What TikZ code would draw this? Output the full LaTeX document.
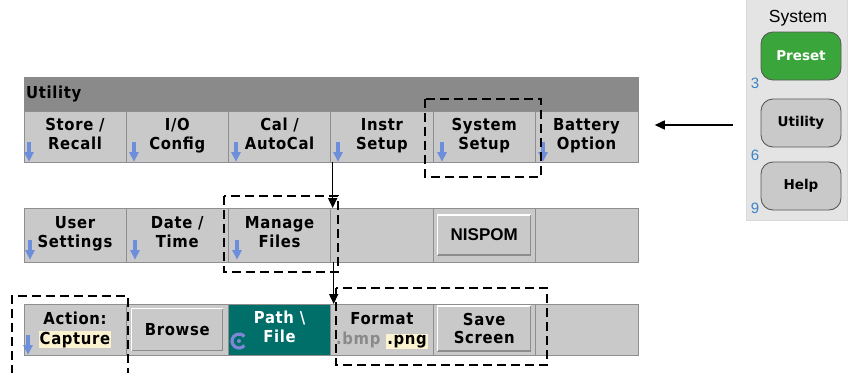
\documentclass[tikz,border=0pt]{standalone}
\usepackage{fontspec}
\setmainfont{Liberation Sans}
\newfontfamily\lcd[FakeStretch=0.9,LetterSpace=4]{DejaVu Sans}
\newfontfamily\keyfont{DejaVu Sans}
\usetikzlibrary{arrows.meta}

\definecolor{barGray}{HTML}{8A8A8A}
\definecolor{cellGray}{HTML}{C9C9C9}
\definecolor{lineGray}{HTML}{8E8E8E}
\definecolor{tealCell}{HTML}{006E69}
\definecolor{hiYellow}{HTML}{FBF3CF}
\definecolor{dimGray}{HTML}{8A8A8A}
\definecolor{softBlue}{HTML}{6D8FDB}
\definecolor{iconBlue}{HTML}{7E86D6}
\definecolor{keyGreen}{HTML}{3AA53A}
\definecolor{numBlue}{HTML}{3C82C4}
\definecolor{panelGray}{HTML}{E4E4E4}

\tikzset{
  cell/.style={draw=lineGray, fill=cellGray, minimum width=102.5pt, inner sep=0pt, outer sep=0pt,
    align=center, text height=25pt, text depth=0pt, font=\lcd\bfseries\fontsize{16.5}{19}\selectfont},
  raised/.style={draw=lineGray!80, line width=1.2pt, fill=cellGray, inner sep=0pt, outer sep=0pt, align=center},
  focus/.style={dash pattern=on 9pt off 5pt, line width=1.2pt},
  key/.style={draw=black!65, line width=0.9pt, rounded corners=12pt, minimum width=80pt, minimum height=48pt,
    fill=cellGray, font=\keyfont\bfseries\fontsize{13.5}{16}\selectfont},
  keynum/.style={text=numBlue, font=\fontsize{15}{17}\selectfont, inner sep=0pt},
  downarrow/.pic={
    \fill[softBlue] (-1.6,0) rectangle (1.6,11);
    \fill[softBlue] (-5,10) -- (5,10) -- (0,19.5) -- cycle;
  },
  >={Triangle[length=10pt,width=9pt]}
}
\newcommand{\hl}[1]{{\setlength\fboxsep{1pt}\colorbox{hiYellow}{#1}}}

\begin{document}
\begin{tikzpicture}[x=1pt,y=-1pt]
	\useasboundingbox (0,0) rectangle (850,372);
	% top menu
	\node[draw=barGray, fill=barGray, minimum width=614pt, minimum height=33pt, inner sep=0pt] (title) at (331,93.5) {};
	\node[anchor=base west, inner sep=0pt, font=\lcd\bfseries\fontsize{16.5}{19}\selectfont] (titletext) at (26,98) {Utility};
	\node[cell, minimum height=51pt] (store) at (75,136.5) {Store /\\Recall};
	\node[cell, minimum height=51pt] (ioconf) at (177.3,136.5) {I/O\\Config};
	\node[cell, minimum height=51pt] (cal) at (279.6,136.5) {Cal /\\AutoCal};
	\node[cell, minimum height=51pt] (instr) at (381.9,136.5) {Instr\\Setup};
	\node[cell, minimum height=51pt] (syssetup) at (484.2,136.5) {System\\Setup};
	\node[cell, minimum height=51pt] (battery) at (586.5,136.5) {Battery\\Option};
	% second menu
	\node[cell, minimum height=54pt] (user) at (75,235) {User\\Settings};
	\node[cell, minimum height=54pt] (datetime) at (177.3,235) {Date /\\Time};
	\node[cell, minimum height=54pt] (manage) at (279.6,235) {Manage\\Files};
	\node[cell, minimum height=54pt] (blanka) at (381.9,235) {};
	\node[cell, minimum height=54pt] (nispomcell) at (484.2,235) {};
	\node[cell, minimum height=54pt] (blankb) at (586.5,235) {};
	\node[raised, minimum width=93pt, minimum height=40pt, font=\bfseries\fontsize{17}{20}\selectfont] (nispom) at (nispomcell) {NISPOM};
	% third menu
	\node[cell, minimum height=51pt, text height=29pt] (action) at (75,329.5) {Action:\\[1pt]\hl{Capture}};
	\node[cell, minimum height=51pt] (browsecell) at (177.3,329.5) {};
	\node[cell, fill=tealCell, minimum height=51pt, text=white] (path) at (279.6,329.5) {Path \textbackslash\\File};
	\node[cell, minimum height=51pt, text height=29pt] (format) at (381.9,329.5) {Format\\[1pt]{\color{dimGray}.bmp} \hl{.png}};
	\node[cell, minimum height=51pt] (savecell) at (484.2,329.5) {};
	\node[cell, minimum height=51pt] (blankc) at (586.5,329.5) {};
	\node[raised, minimum width=91pt, minimum height=42pt, font=\lcd\bfseries\fontsize{16.5}{19}\selectfont] (browse) at (browsecell) {Browse};
	\node[raised, minimum width=93pt, minimum height=45pt, font=\lcd\bfseries\fontsize{16.5}{18}\selectfont] (save) at ([yshift=1pt]savecell) {Save\\Screen};
	% raised edges
	\foreach \b in {nispom,browse,save}{
	\draw[white, line width=1.2pt] (\b.south west) |- (\b.north east);
	\draw[black!45, line width=1.2pt] (\b.south west) -| (\b.north east);
	}
	% soft key arrows
	\foreach \x in {29,134,236,338,442,543}
	\pic at (\x,142) {downarrow};
	\foreach \x in {30,135,237}
	\pic at (\x,240) {downarrow};
	\pic at (28,335) {downarrow};
	% rotate icon
	\draw[iconBlue, line width=3.2pt] (239,341) ++(40:7) arc (40:320:7);
	\fill[iconBlue] (239,341) circle (2);
	% front panel keys
	\node[draw=black!15, fill=panelGray, minimum width=101pt, minimum height=224pt, inner sep=0pt] (panel) at (796.5,108) {};
	\node[font=\fontsize{17.5}{20}\selectfont, inner sep=0pt] (system) at (798,18) {System};
	\node[key, fill=keyGreen, text=white] (preset) at (801,56) {Preset};
	\node[key] (utilkey) at (801,123) {Utility};
	\node[key] (help) at (801,186) {Help};
	\node[keynum] (three) at (755,83) {3};
	\node[keynum] (six) at (755,155) {6};
	\node[keynum] (nine) at (755,208) {9};
	% selection frames
	\draw[focus] (425,99) rectangle (541,177);
	\draw[focus] (224,196) rectangle (338,272);
	\draw[focus] (12,374) -- (12,296) -- (128,296) -- (128,374);
	\draw[focus] (336,288) rectangle (547,365);
	% connectors
	\coordinate (keyout) at ([xshift=-28pt,yshift=-2pt]utilkey.west);
	\coordinate (menuin) at ([xshift=17pt]keyout -| battery.east);
	\draw[->, line width=1.5pt] (keyout) -- (menuin);
	\draw[->, line width=1.5pt] ([xshift=2pt]instr.south west) -- ([xshift=2pt]blanka.north west);
	\draw[->, line width=1.5pt] ([xshift=3pt]blanka.south west) -- ([xshift=3pt]format.north west);
\end{tikzpicture}
\end{document}
